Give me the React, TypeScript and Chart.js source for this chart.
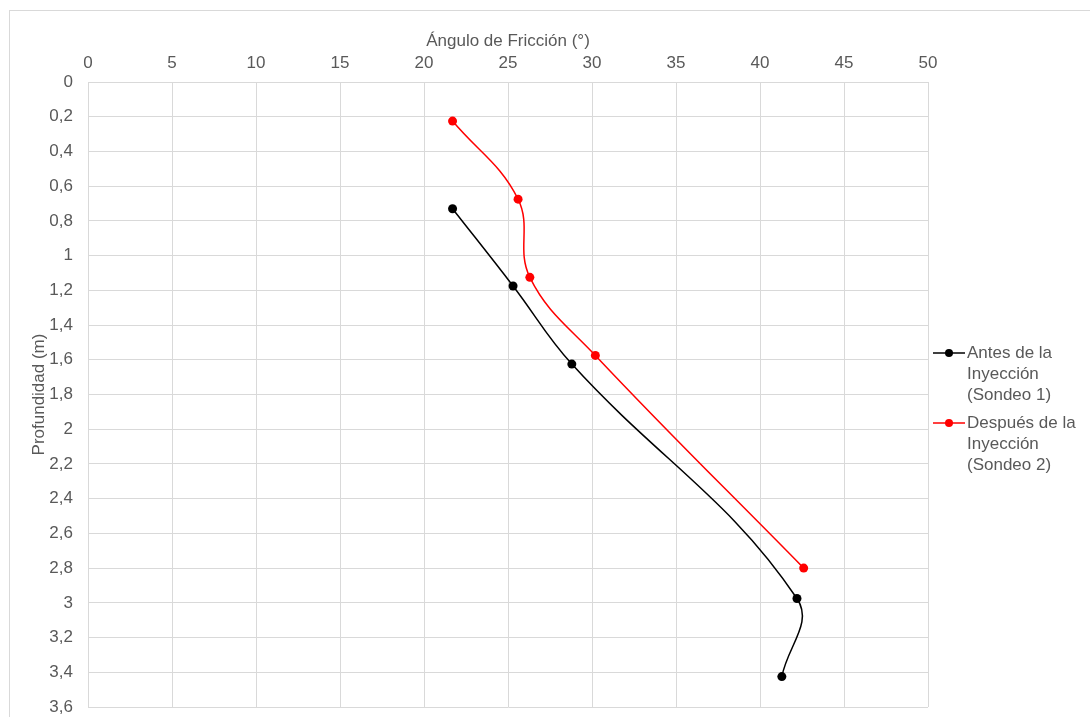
import React, { useEffect, useRef } from "react";
import { Chart, registerables } from "chart.js";

Chart.register(...registerables);

const xTitle = "Ángulo de Fricción (°)";
const yTitle = "Profundidad (m)";
const xTicks = { min: 0, max: 50, step: 5 };
const yTicks = { min: 0, max: 3.6, step: 0.2 };

const antesAngle = [21.7, 25.3, 28.8, 42.2, 41.3];
const antesDepth = [0.73, 1.175, 1.625, 2.975, 3.425];
const despuesAngle = [21.7, 25.6, 26.3, 30.2, 42.6];
const despuesDepth = [0.225, 0.675, 1.125, 1.575, 2.8];

const seriesLines = [
  ["Antes de la", "Inyección", "(Sondeo 1)"],
  ["Después de la", "Inyección", "(Sondeo 2)"],
];
const seriesColors = ["#000000", "#ff0000"];

const FONT = "'Liberation Sans', Arial, sans-serif";
const TEXT = "#595959";
const GRID = "#d9d9d9";

const formatComma = (v: number) => String(Math.round(v * 10) / 10).replace(".", ",");

const frameAndLegend = {
  id: "frameAndLegend",
  beforeDraw(chart: any) {
    const ctx = chart.ctx;
    ctx.save();
    ctx.fillStyle = "#ffffff";
    ctx.fillRect(0, 0, chart.width, chart.height);
    ctx.strokeStyle = GRID;
    ctx.lineWidth = 1;
    ctx.strokeRect(9.5, 10.5, 1200, 1000);
    ctx.restore();
  },
  afterDraw(chart: any) {
    const ctx = chart.ctx;
    ctx.save();
    ctx.font = `17px ${FONT}`;
    ctx.textBaseline = "middle";
    ctx.textAlign = "left";
    const starts = [353, 423];
    const lineH = 21;
    seriesLines.forEach((lines, i) => {
      const y0 = starts[i];
      ctx.strokeStyle = seriesColors[i];
      ctx.fillStyle = seriesColors[i];
      ctx.lineWidth = 1.5;
      ctx.beginPath();
      ctx.moveTo(933, y0);
      ctx.lineTo(965, y0);
      ctx.stroke();
      ctx.beginPath();
      ctx.arc(949, y0, 4, 0, Math.PI * 2);
      ctx.fill();
      ctx.fillStyle = TEXT;
      lines.forEach((t, j) => ctx.fillText(t, 967, y0 + j * lineH));
    });
    ctx.restore();
  },
};

export default function App() {
  const ref = useRef<HTMLCanvasElement>(null);
  useEffect(() => {
    if (!ref.current) return;
    const chart = new Chart(ref.current, {
      type: "scatter",
      data: {
        datasets: [
          {
            label: seriesLines[0].join(" "),
            data: antesAngle.map((x, i) => ({ x, y: antesDepth[i] })),
            borderColor: seriesColors[0],
            backgroundColor: seriesColors[0],
            showLine: true,
            tension: 0.4,
            borderWidth: 1.5,
            pointRadius: 4.5,
            pointBorderWidth: 0,
          },
          {
            label: seriesLines[1].join(" "),
            data: despuesAngle.map((x, i) => ({ x, y: despuesDepth[i] })),
            borderColor: seriesColors[1],
            backgroundColor: seriesColors[1],
            showLine: true,
            tension: 0.4,
            borderWidth: 1.5,
            pointRadius: 4.5,
            pointBorderWidth: 0,
          },
        ],
      },
      options: {
        animation: false,
        responsive: false,
        layout: { padding: { left: 0, top: 0, right: 162, bottom: 10 } },
        plugins: { legend: { display: false }, tooltip: { enabled: false } },
        scales: {
          x: {
            type: "linear",
            position: "top",
            min: xTicks.min,
            max: xTicks.max,
            afterFit: (s: any) => { s.height = 82; s.paddingLeft = 0; s.paddingRight = 0; },
            ticks: { stepSize: xTicks.step, padding: 8, color: TEXT, font: { family: FONT, size: 17 } },
            grid: { color: GRID, lineWidth: 1, drawTicks: false },
            border: { color: GRID },
            title: { display: true, text: xTitle, color: TEXT, font: { family: FONT, size: 17 }, padding: { top: 31, bottom: 0 } },
          },
          y: {
            type: "linear",
            reverse: true,
            min: yTicks.min,
            max: yTicks.max,
            afterFit: (s: any) => { s.width = 88; s.paddingTop = 0; s.paddingBottom = 0; },
            ticks: {
              stepSize: yTicks.step,
              padding: 15,
              color: TEXT,
              font: { family: FONT, size: 17 },
              callback: (v: any) => formatComma(Number(v)),
            },
            grid: { color: GRID, lineWidth: 1, drawTicks: false },
            border: { color: GRID },
            title: { display: true, text: yTitle, color: TEXT, font: { family: FONT, size: 17 }, padding: { top: 29, bottom: 0 } },
          },
        },
      },
      plugins: [frameAndLegend],
    });
    return () => chart.destroy();
  }, []);
  return (
    <div style={{ position: "absolute", left: 0, top: 0, width: 1090, height: 717 }}>
      <canvas ref={ref} width={1090} height={717} style={{ display: "block", width: 1090, height: 717 }} />
    </div>
  );
}
